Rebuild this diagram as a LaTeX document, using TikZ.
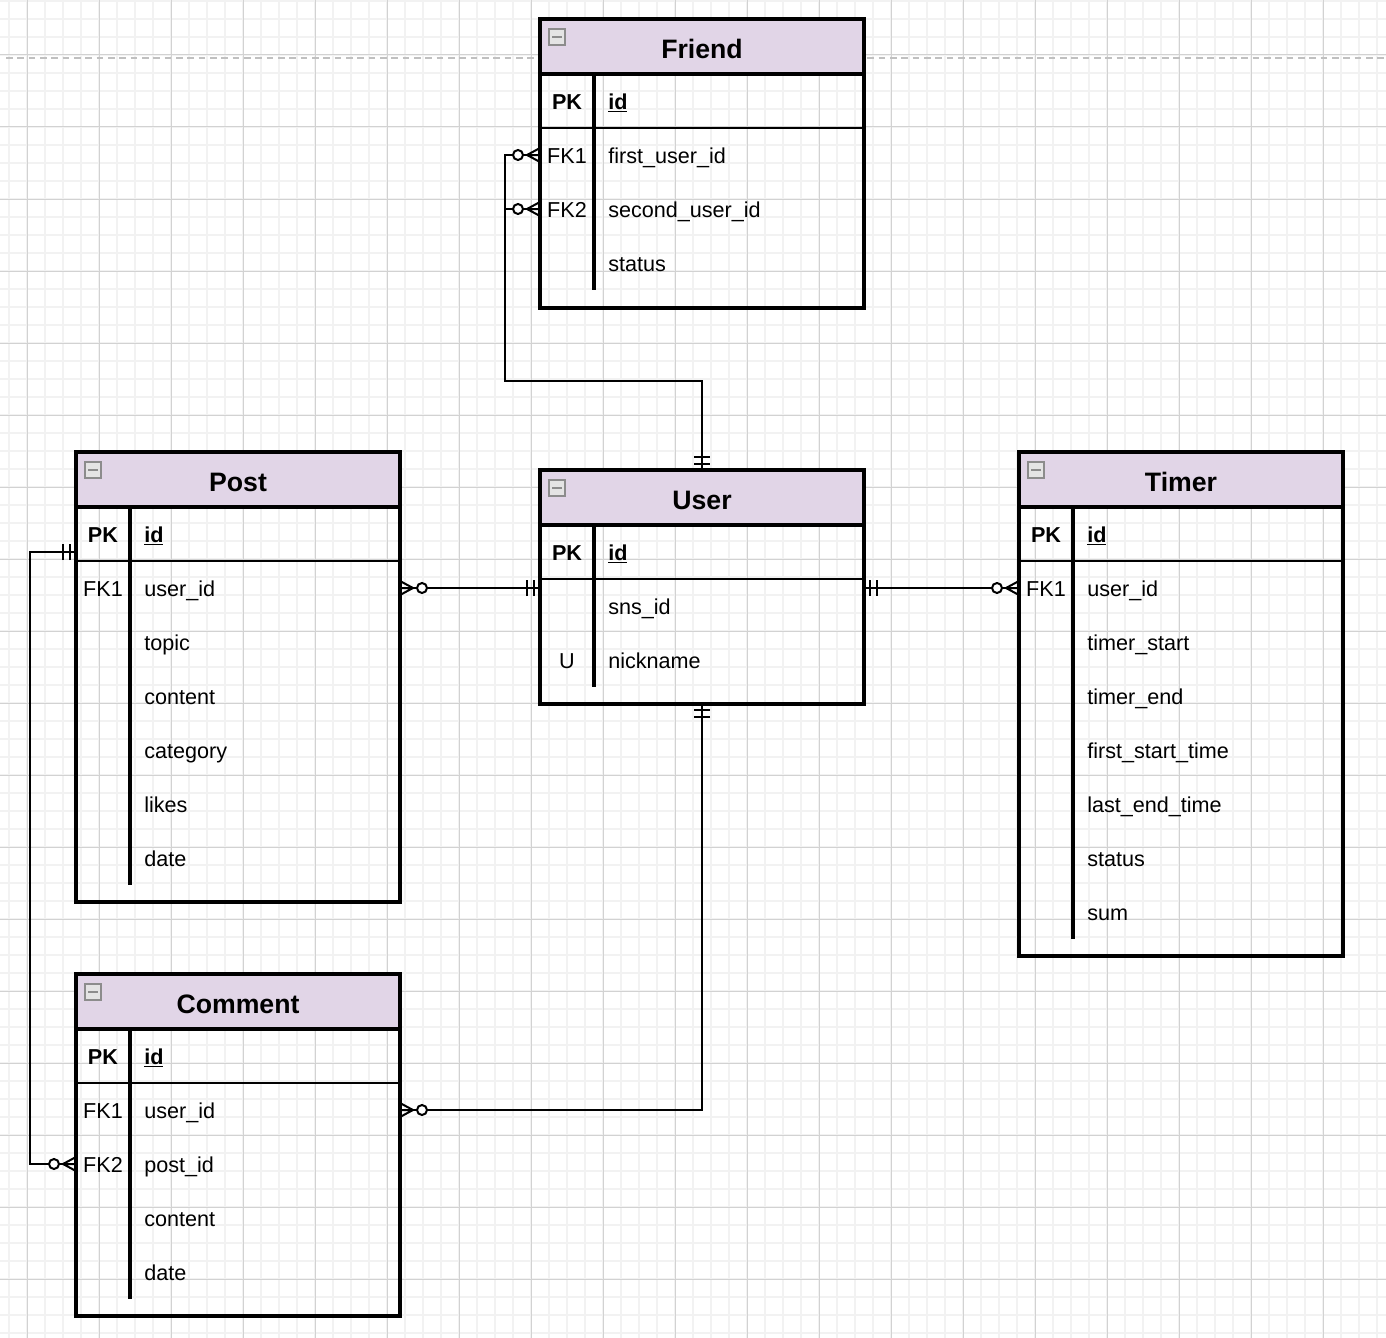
\documentclass[tikz,border=0pt]{standalone}
\usepackage{fontspec}
\setmainfont{Liberation Sans}
\usetikzlibrary{calc}

\definecolor{hdrfill}{HTML}{E1D5E7}
\definecolor{minorgrid}{HTML}{F2F2F2}
\definecolor{majorgrid}{HTML}{D2D2D2}
\definecolor{breakgray}{HTML}{C0C0C0}
\definecolor{iconfill}{HTML}{E4E4E4}
\definecolor{iconline}{HTML}{8C8C8C}

\tikzset{
  tbl/.style={draw, line width=2.4pt, minimum width=243pt, inner sep=0pt, outer sep=0pt, anchor=north west},
  hdr/.style={tbl, fill=hdrfill, minimum height=41.25pt, text height=17.5pt, text depth=0pt, font=\bfseries\fontsize{20}{24}\selectfont},
  keytxt/.style={inner sep=0pt, text height=13pt, text depth=1pt, font=\fontsize{16.2}{19}\selectfont},
  fldtxt/.style={keytxt, anchor=west},
  sepline/.style={line width=2.4pt},
  rowline/.style={line width=1.5pt},
  conn/.style={line width=1.5pt},
  minbox/.style={draw=iconline, line width=0.9pt, fill=iconfill, minimum size=12pt, inner sep=0pt,
    path picture={\draw[line width=1.8pt] ([xshift=-3.6pt]path picture bounding box.center) -- ([xshift=3.6pt]path picture bounding box.center);}},
  zeromany/.pic={\draw[line width=1.5pt] (0,7) -- (13,0) -- (0,-7) (0,0) -- (13,0);
    \draw[line width=1.5pt, fill=white] (22,0) circle (3.75pt);},
  oneone/.pic={\draw[line width=1.5pt] (6,-8) -- (6,8) (13,-8) -- (13,8);}
}

\begin{document}
\begin{tikzpicture}[x=0.75pt, y=-0.75pt]
  \useasboundingbox (0,0) rectangle (1386,1338);
  \fill[white] (0,0) rectangle (1386,1338);
  % grid
  \foreach \gx in {9,27,...,1385} \draw[minorgrid, line width=1.5pt] (\gx,0) -- (\gx,1338);
  \foreach \gy in {1,19,...,1337} \draw[minorgrid, line width=1.5pt] (0,\gy) -- (1386,\gy);
  \foreach \gx in {27,99,...,1385} \draw[majorgrid, line width=0.75pt] (\gx,0) -- (\gx,1338);
  \foreach \gy in {55,127,...,1337} \draw[majorgrid, line width=0.75pt] (0,\gy) -- (1386,\gy);
  \draw[breakgray, line width=1.2pt, dash pattern=on 5pt off 3.5pt] (6,58) -- (1386,58);

  % Friend
  \node[hdr] (friend) at (540,19) {Friend};
  \node[tbl, minimum height=175.5pt] (friend-body) at (540,74) {};
  \node[minbox] (friend-icon) at (557,37) {};
  \draw[rowline] (540,128) -- (864,128);
  \draw[sepline] (594,74) -- (594,290);
  \node[keytxt] (friend-pk) at (567,101) {\textbf{PK}}; \node[fldtxt] (friend-id) at (608,101) {\textbf{\underline{id}}};
  \node[keytxt] (friend-fk1) at (567,155) {FK1}; \node[fldtxt] (friend-first) at (608,155) {first\_user\_id};
  \node[keytxt] (friend-fk2) at (567,209) {FK2}; \node[fldtxt] (friend-second) at (608,209) {second\_user\_id};
  \node[fldtxt] (friend-status) at (608,263) {status};

  % User
  \node[hdr] (user) at (540,470) {User};
  \node[tbl, minimum height=134.25pt] (user-body) at (540,525) {};
  \node[minbox] (user-icon) at (557,488) {};
  \draw[rowline] (540,579) -- (864,579);
  \draw[sepline] (594,525) -- (594,687);
  \node[keytxt] (user-pk) at (567,552) {\textbf{PK}}; \node[fldtxt] (user-id) at (608,552) {\textbf{\underline{id}}};
  \node[fldtxt] (user-sns) at (608,606) {sns\_id};
  \node[keytxt] (user-u) at (567,660) {U}; \node[fldtxt] (user-nick) at (608,660) {nickname};

  % Post
  \node[hdr] (post) at (76,452) {Post};
  \node[tbl, minimum height=296.25pt] (post-body) at (76,507) {};
  \node[minbox] (post-icon) at (93,470) {};
  \draw[rowline] (76,561) -- (400,561);
  \draw[sepline] (130,507) -- (130,885);
  \node[keytxt] (post-pk) at (103,534) {\textbf{PK}}; \node[fldtxt] (post-id) at (144,534) {\textbf{\underline{id}}};
  \node[keytxt] (post-fk1) at (103,588) {FK1}; \node[fldtxt] (post-user) at (144,588) {user\_id};
  \node[fldtxt] (post-topic) at (144,642) {topic};
  \node[fldtxt] (post-content) at (144,696) {content};
  \node[fldtxt] (post-category) at (144,750) {category};
  \node[fldtxt] (post-likes) at (144,804) {likes};
  \node[fldtxt] (post-date) at (144,858) {date};

  % Timer
  \node[hdr] (timer) at (1019,452) {Timer};
  \node[tbl, minimum height=336.75pt] (timer-body) at (1019,507) {};
  \node[minbox] (timer-icon) at (1036,470) {};
  \draw[rowline] (1019,561) -- (1343,561);
  \draw[sepline] (1073,507) -- (1073,939);
  \node[keytxt] (timer-pk) at (1046,534) {\textbf{PK}}; \node[fldtxt] (timer-id) at (1087,534) {\textbf{\underline{id}}};
  \node[keytxt] (timer-fk1) at (1046,588) {FK1}; \node[fldtxt] (timer-user) at (1087,588) {user\_id};
  \node[fldtxt] (timer-start) at (1087,642) {timer\_start};
  \node[fldtxt] (timer-end) at (1087,696) {timer\_end};
  \node[fldtxt] (timer-first) at (1087,750) {first\_start\_time};
  \node[fldtxt] (timer-last) at (1087,804) {last\_end\_time};
  \node[fldtxt] (timer-status) at (1087,858) {status};
  \node[fldtxt] (timer-sum) at (1087,912) {sum};

  % Comment
  \node[hdr] (comment) at (76,974) {Comment};
  \node[tbl, minimum height=215.25pt] (comment-body) at (76,1029) {};
  \node[minbox] (comment-icon) at (93,992) {};
  \draw[rowline] (76,1083) -- (400,1083);
  \draw[sepline] (130,1029) -- (130,1299);
  \node[keytxt] (comment-pk) at (103,1056) {\textbf{PK}}; \node[fldtxt] (comment-id) at (144,1056) {\textbf{\underline{id}}};
  \node[keytxt] (comment-fk1) at (103,1110) {FK1}; \node[fldtxt] (comment-user) at (144,1110) {user\_id};
  \node[keytxt] (comment-fk2) at (103,1164) {FK2}; \node[fldtxt] (comment-post) at (144,1164) {post\_id};
  \node[fldtxt] (comment-content) at (144,1218) {content};
  \node[fldtxt] (comment-date) at (144,1272) {date};

  % relations
  \coordinate (friend-bend) at (505,381);
  \coordinate (post-port) at ($(post-body.west |- post-pk)+(0,18)$);
  \coordinate (post-lane) at (30,800);
  \draw[conn] (friend-body.west |- friend-fk1) -| (friend-bend) -| (user.north);
  \draw[conn] (friend-body.west |- friend-fk2) -- (friend-bend |- friend-fk2);
  \draw[conn] (post-body.east |- post-fk1) -- (user-body.west |- post-fk1);
  \draw[conn] (user-body.east |- timer-fk1) -- (timer-body.west |- timer-fk1);
  \draw[conn] (post-port) -| (post-lane) |- (comment-body.west |- comment-fk2);
  \draw[conn] (user-body.south) |- (comment-body.east |- comment-fk1);

  \pic[rotate=180] at (friend-body.west |- friend-fk1) {zeromany};
  \pic[rotate=180] at (friend-body.west |- friend-fk2) {zeromany};
  \pic[rotate=90] at (user.north) {oneone};
  \pic at (post-body.east |- post-fk1) {zeromany};
  \pic[rotate=180] at (user-body.west |- post-fk1) {oneone};
  \pic at (user-body.east |- timer-fk1) {oneone};
  \pic[rotate=180] at (timer-body.west |- timer-fk1) {zeromany};
  \pic[rotate=180] at (post-port) {oneone};
  \pic[rotate=180] at (comment-body.west |- comment-fk2) {zeromany};
  \pic[rotate=-90] at (user-body.south) {oneone};
  \pic at (comment-body.east |- comment-fk1) {zeromany};
\end{tikzpicture}
\end{document}
